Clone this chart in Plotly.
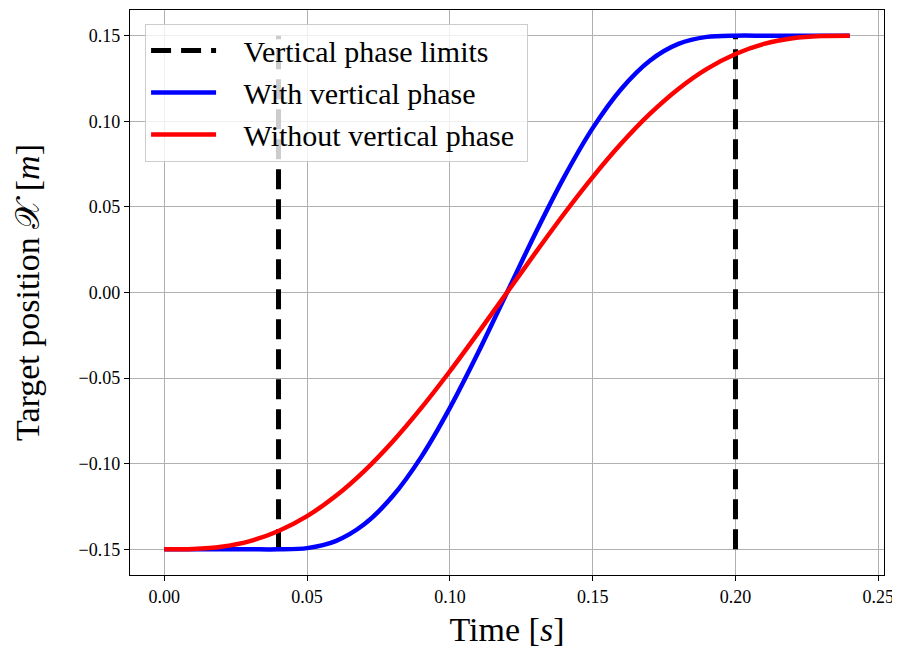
import plotly.graph_objects as go

# Time samples [s]
time_red = [0.00, 0.01, 0.02, 0.03, 0.04, 0.05, 0.06, 0.07, 0.08, 0.09, 0.10, 0.11, 0.12,
            0.13, 0.14, 0.15, 0.16, 0.17, 0.18, 0.19, 0.20, 0.21, 0.22, 0.23, 0.24]
pos_without = [-0.1500, -0.1498, -0.1485, -0.1452, -0.1393, -0.1306, -0.1189, -0.1043, -0.0870,
               -0.0674, -0.0460, -0.0233, 0.0000, 0.0233, 0.0460, 0.0674, 0.0870, 0.1043,
               0.1189, 0.1306, 0.1393, 0.1452, 0.1485, 0.1498, 0.1500]

time_blue = [0.00, 0.01, 0.02, 0.03, 0.04, 0.05, 0.06, 0.07, 0.08, 0.09, 0.10, 0.11, 0.12,
             0.13, 0.14, 0.15, 0.16, 0.17, 0.18, 0.19, 0.20, 0.21, 0.22, 0.23, 0.24]
pos_with = [-0.1500, -0.1500, -0.1500, -0.1500, -0.1500, -0.1493, -0.1452, -0.1354, -0.1189,
            -0.0960, -0.0674, -0.0348, 0.0000, 0.0348, 0.0674, 0.0960, 0.1189, 0.1354,
            0.1452, 0.1493, 0.1500, 0.1500, 0.1500, 0.1500, 0.1500]

phase_limits = [0.04, 0.20]
limit_y = [-0.15, 0.15]

x_ticks = [0.00, 0.05, 0.10, 0.15, 0.20, 0.25]
y_ticks = [-0.15, -0.10, -0.05, 0.00, 0.05, 0.10, 0.15]

FONT = "Liberation Serif, Times New Roman, serif"
PAD = "\u00a0\u00a0\u00a0"

fig = go.Figure()

for i, xl in enumerate(phase_limits):
    fig.add_trace(go.Scatter(
        x=[xl, xl], y=limit_y, mode="lines",
        line=dict(color="black", width=5, dash="20px,10px"),
        name=PAD + "Vertical phase limits", showlegend=(i == 0),
        legendgroup="limits",
    ))

fig.add_trace(go.Scatter(
    x=time_blue, y=pos_with, mode="lines",
    line=dict(color="#0000ff", width=4.5, shape="spline", smoothing=0.8),
    name=PAD + "With vertical phase", legendgroup="with",
))
fig.add_trace(go.Scatter(
    x=time_red, y=pos_without, mode="lines",
    line=dict(color="#ff0000", width=4.5, shape="spline", smoothing=0.8),
    name=PAD + "Without vertical phase\u00a0", legendgroup="without",
))

axis_common = dict(
    showline=True, linecolor="black", linewidth=1.3, mirror=True,
    ticks="outside", ticklen=5, tickcolor="black", tickwidth=1,
    showgrid=True, gridcolor="#b0b0b0", gridwidth=1, zeroline=False,
    tickfont=dict(size=18, color="black"),
)

fig.update_layout(
    width=892, height=642,
    margin=dict(l=122, r=16, t=2, b=75),
    paper_bgcolor="white", plot_bgcolor="white",
    font=dict(family=FONT, color="black"),
    xaxis=dict(range=[-0.012, 0.252], tickvals=x_ticks, tickformat=".2f",
               title=dict(text="Time [<i>s</i>]", font=dict(size=34), standoff=11),
               **axis_common),
    yaxis=dict(range=[-0.165, 0.165], tickvals=y_ticks, tickformat=".2f",
               title=dict(text="Target position 𝒳 [<i>m</i>]", font=dict(size=34), standoff=28),
               **axis_common),
    legend=dict(x=0.02, y=0.976, xanchor="left", yanchor="top",
                bgcolor="rgba(255,255,255,0.8)", bordercolor="#cccccc", borderwidth=1,
                font=dict(size=30, color="black"),
                itemwidth=65, tracegroupgap=0, traceorder="grouped"),
    showlegend=True,
)

fig.write_html("out.html")
